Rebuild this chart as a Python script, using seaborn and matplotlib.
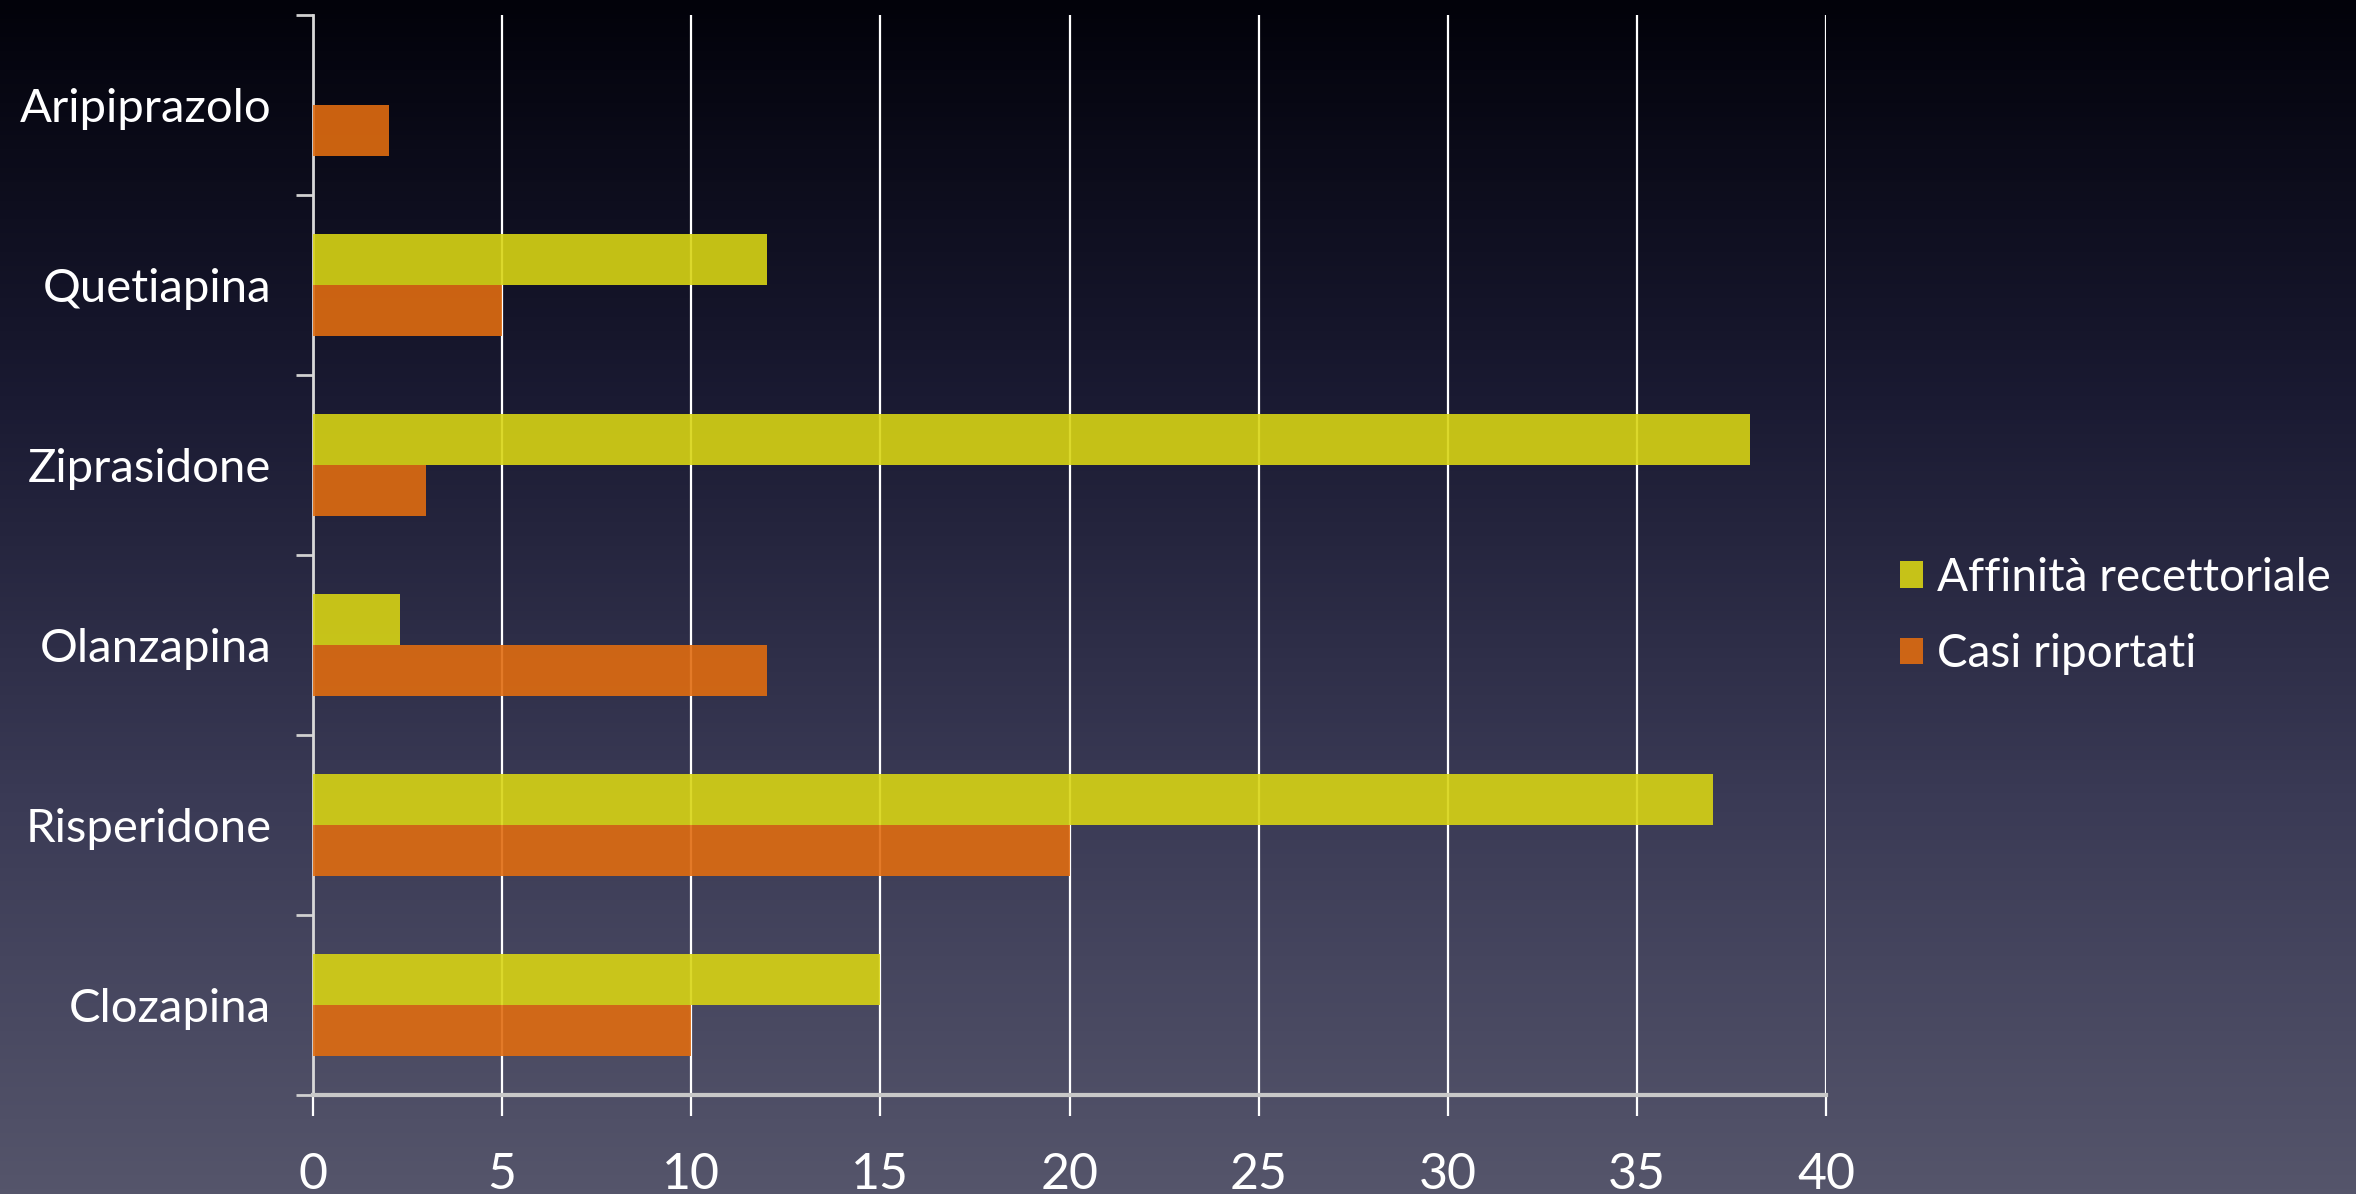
import numpy as np
import pandas as pd
import matplotlib
matplotlib.use("Agg")
import matplotlib.pyplot as plt
from matplotlib.colors import LinearSegmentedColormap
import seaborn as sns

# ---- data ----
drugs = ["Aripiprazolo", "Quetiapina", "Ziprasidone", "Olanzapina", "Risperidone", "Clozapina"]
affinita = [0, 12, 38, 2.3, 37, 15]
casi = [2, 5, 3, 12, 20, 10]
series_names = ["Affinità recettoriale", "Casi riportati"]
x_ticks = [0, 5, 10, 15, 20, 25, 30, 35, 40]

df = pd.DataFrame({
    "drug": drugs * 2,
    "value": affinita + casi,
    "serie": [series_names[0]] * len(drugs) + [series_names[1]] * len(drugs),
})

sns.set_style("white")
plt.rcParams["font.family"] = ["Lato", "DejaVu Sans"]

W, H = 2356, 1194
fig = plt.figure(figsize=(W / 100, H / 100), dpi=100)

# gradient background
bg = fig.add_axes([0, 0, 1, 1], zorder=-10)
cmap = LinearSegmentedColormap.from_list("bg", ["#02020a", "#1a1a32", "#3a3a55", "#55556b"])
grad = np.linspace(0, 1, 256).reshape(-1, 1)
bg.imshow(grad, aspect="auto", cmap=cmap, extent=[0, 1, 0, 1], origin="upper")
bg.set_axis_off()

ax = fig.add_axes([313 / W, 1 - 1095 / H, (1826 - 313) / W, (1095 - 15) / H])
ax.set_facecolor("none")

palette = {series_names[0]: "#d8d414", series_names[1]: "#e06c10"}
sns.barplot(data=df, y="drug", x="value", hue="serie", order=drugs,
            hue_order=series_names, palette=palette, orient="h",
            width=0.57, gap=0, alpha=0.9, saturation=1, ax=ax,
            edgecolor="none", linewidth=0, zorder=3)

ax.set_xlim(0, 40)
ax.set_ylim(5.5, -0.5)
ax.set_xticks(x_ticks)
ax.set_xticklabels([str(t) for t in x_ticks], fontsize=36, color="white")
ax.xaxis.grid(True, color="white", linewidth=1.6, zorder=1)
ax.set_axisbelow(True)
ax.tick_params(axis="x", bottom=True, length=15, width=1.6, color="white", pad=26, direction="out")

# y ticks at category boundaries, labels at centers
ax.set_yticks(np.arange(-0.5, 6, 1.0))
ax.set_yticklabels([])
ax.set_yticks(np.arange(len(drugs)), minor=True)
ax.set_yticklabels(drugs, minor=True, fontsize=34, color="white")
ax.tick_params(axis="y", which="major", left=True, length=12, width=2, color="#d0d0d0", direction="out")
ax.tick_params(axis="y", which="minor", left=True, length=0, pad=30)

ax.set_xlabel("")
ax.set_ylabel("")
for s in ["top", "right"]:
    ax.spines[s].set_visible(False)
ax.spines["left"].set_color("#d8d8d8")
ax.spines["left"].set_linewidth(2)
ax.spines["bottom"].set_color("#c8c8c8")
ax.spines["bottom"].set_linewidth(3)

handles, labels = ax.get_legend_handles_labels()
leg = ax.legend(handles, labels, loc="center left", bbox_to_anchor=(1900 / W, 1 - 616 / H),
                bbox_transform=fig.transFigure, frameon=False, fontsize=33,
                handlelength=0.5, handleheight=0.5, handletextpad=0.3,
                labelspacing=0.75, labelcolor="white", borderpad=0, borderaxespad=0)

fig.savefig("out.png", dpi=100)
